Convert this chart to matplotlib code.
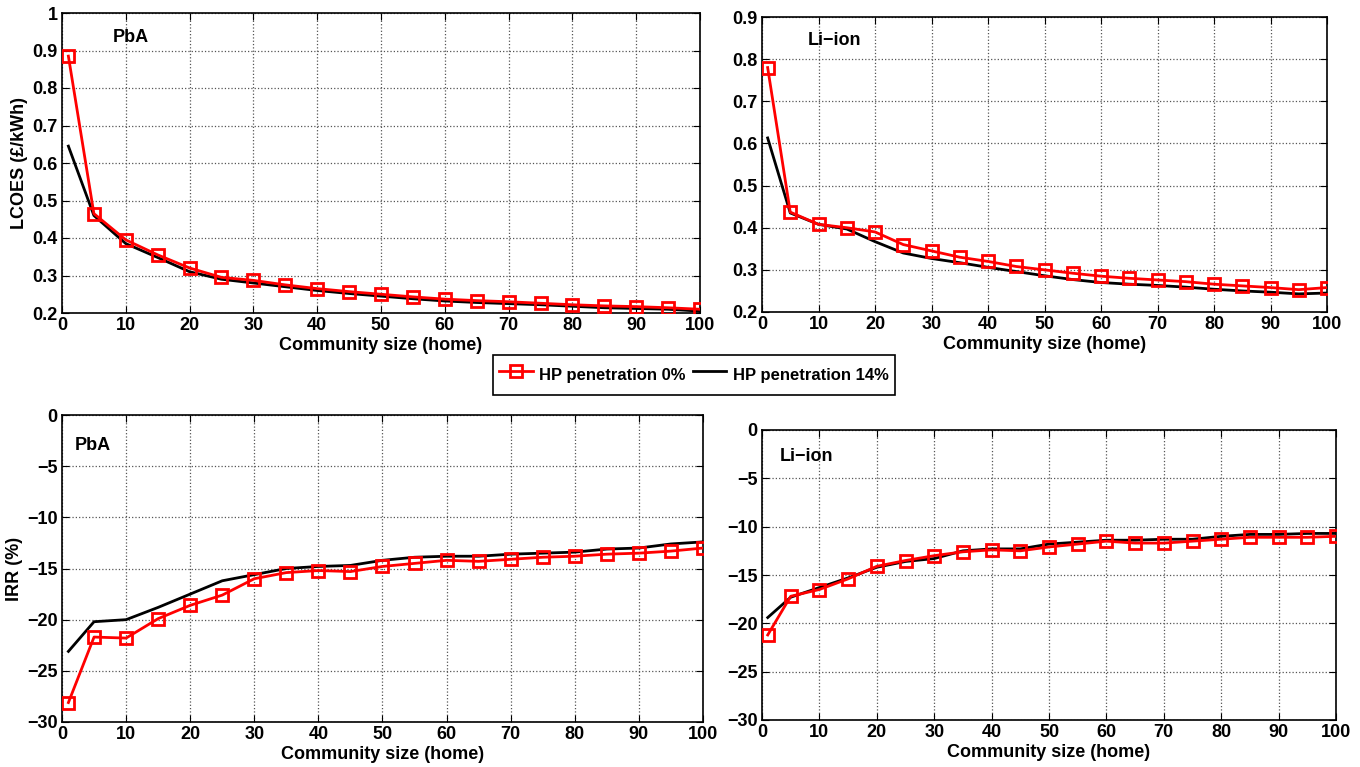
import matplotlib
matplotlib.use("Agg")
import matplotlib.pyplot as plt
from matplotlib.lines import Line2D

plt.rcParams['font.family'] = ['Liberation Sans', 'DejaVu Sans']
plt.rcParams['font.weight'] = 'bold'
plt.rcParams['font.size'] = 12

# community size (homes)
size = [1, 5, 10, 15, 20, 25, 30, 35, 40, 45, 50, 55, 60, 65, 70, 75, 80, 85, 90, 95, 100]

# LCOES (GBP/kWh)
lcoes_pba_0 = [0.885, 0.465, 0.395, 0.355, 0.32, 0.295, 0.287, 0.275, 0.265, 0.257, 0.25,
               0.243, 0.237, 0.233, 0.23, 0.226, 0.222, 0.219, 0.217, 0.214, 0.21]
lcoes_pba_14 = [0.645, 0.46, 0.385, 0.348, 0.31, 0.29, 0.28, 0.27, 0.26, 0.252, 0.245,
                0.238, 0.232, 0.228, 0.225, 0.222, 0.218, 0.214, 0.212, 0.21, 0.205]
lcoes_li_0 = [0.78, 0.437, 0.408, 0.40, 0.39, 0.36, 0.345, 0.33, 0.32, 0.308, 0.30,
              0.292, 0.285, 0.28, 0.276, 0.272, 0.266, 0.262, 0.258, 0.253, 0.258]
lcoes_li_14 = [0.613, 0.435, 0.408, 0.397, 0.367, 0.34, 0.327, 0.317, 0.306, 0.296, 0.286,
               0.277, 0.27, 0.266, 0.263, 0.259, 0.254, 0.25, 0.247, 0.243, 0.245]

# IRR (%)
irr_pba_0 = [-28.1, -21.7, -21.8, -19.9, -18.6, -17.6, -16.0, -15.4, -15.2, -15.3, -14.8,
             -14.5, -14.2, -14.3, -14.1, -13.9, -13.8, -13.6, -13.5, -13.3, -13.0]
irr_pba_14 = [-23.1, -20.2, -20.0, -18.8, -17.5, -16.2, -15.6, -15.0, -14.8, -14.7, -14.2,
              -13.9, -13.8, -13.8, -13.6, -13.5, -13.4, -13.1, -13.0, -12.6, -12.4]
irr_li_0 = [-21.2, -17.2, -16.5, -15.4, -14.1, -13.5, -13.0, -12.6, -12.4, -12.5, -12.1,
            -11.8, -11.5, -11.7, -11.7, -11.5, -11.3, -11.1, -11.1, -11.1, -11.0]
irr_li_14 = [-19.4, -17.3, -16.3, -15.3, -14.2, -13.6, -13.3, -12.5, -12.3, -12.3, -11.8,
             -11.6, -11.4, -11.4, -11.3, -11.3, -11.0, -10.8, -10.8, -10.7, -10.7]

labels = ['HP penetration 0%', 'HP penetration 14%']
W, H = 1360, 767
fig = plt.figure(figsize=(W / 100, H / 100), dpi=100)


def px_axes(x0, y0, x1, y1):
    return fig.add_axes([x0 / W, 1 - y1 / H, (x1 - x0) / W, (y1 - y0) / H])


def draw(ax, y0, y14, ylim, yticks, name, tpos, ylabel=None):
    ax.plot(size, y14, color='k', lw=2, zorder=3)
    ax.plot(size, y0, color='#ff0000', lw=2, marker='s', ms=9, mfc='none',
            mec='#ff0000', mew=2, zorder=4)
    ax.set_xlim(0, 100)
    ax.set_ylim(*ylim)
    ax.set_xticks(range(0, 101, 10))
    ax.set_yticks(yticks)
    ax.grid(True, linestyle=':', color='#555555', lw=0.9)
    ax.tick_params(direction='in', length=5, labelsize=13, pad=3, top=True, right=True,
                   labeltop=False, labelright=False)
    for lab in ax.get_xticklabels() + ax.get_yticklabels():
        lab.set_fontweight('bold')
    for s in ax.spines.values():
        s.set_linewidth(1.2)
    ax.set_xlabel('Community size (home)', fontsize=13, fontweight='bold', labelpad=2)
    if ylabel:
        ax.set_ylabel(ylabel, fontsize=13, fontweight='bold', labelpad=3)
    ax.text(tpos[0], tpos[1], name, transform=ax.transAxes, fontsize=13,
            fontweight='bold', va='center', ha='left')


ax1 = px_axes(62, 13, 700, 313)
draw(ax1, lcoes_pba_0, lcoes_pba_14, (0.2, 1.0),
     [0.2, 0.3, 0.4, 0.5, 0.6, 0.7, 0.8, 0.9, 1.0], 'PbA', (0.08, 0.92), 'LCOES (£/kWh)')
ax1.set_yticklabels(['0.2', '0.3', '0.4', '0.5', '0.6', '0.7', '0.8', '0.9', '1'])

ax2 = px_axes(762, 17, 1327, 312)
draw(ax2, lcoes_li_0, lcoes_li_14, (0.2, 0.9),
     [0.2, 0.3, 0.4, 0.5, 0.6, 0.7, 0.8, 0.9], 'Li\u2212ion', (0.081, 0.92))

ax3 = px_axes(62, 415, 703, 722)
draw(ax3, irr_pba_0, irr_pba_14, (-30, 0), range(-30, 1, 5), 'PbA', (0.02, 0.9), 'IRR (%)')

ax4 = px_axes(762, 430, 1336, 720)
draw(ax4, irr_li_0, irr_li_14, (-30, 0), range(-30, 1, 5), 'Li\u2212ion', (0.031, 0.91))

for ax in (ax3, ax4):
    ax.set_yticklabels(['\u2212' + str(abs(v)) if v else '0' for v in range(-30, 1, 5)])

handles = [
    Line2D([], [], color='#ff0000', lw=2, marker='s', ms=9, mfc='none', mec='#ff0000', mew=2),
    Line2D([], [], color='k', lw=2),
]
leg = fig.legend(handles, labels, loc='center', bbox_to_anchor=(694 / W, 1 - 375 / H),
                 ncol=2, fancybox=False, edgecolor='k', framealpha=1,
                 prop={'weight': 'bold', 'size': 12}, handlelength=2.0, handleheight=2.0,
                 columnspacing=0.4, handletextpad=0.4, borderpad=0.4)
leg.get_frame().set_linewidth(1.2)

fig.savefig('out.png', dpi=100)
